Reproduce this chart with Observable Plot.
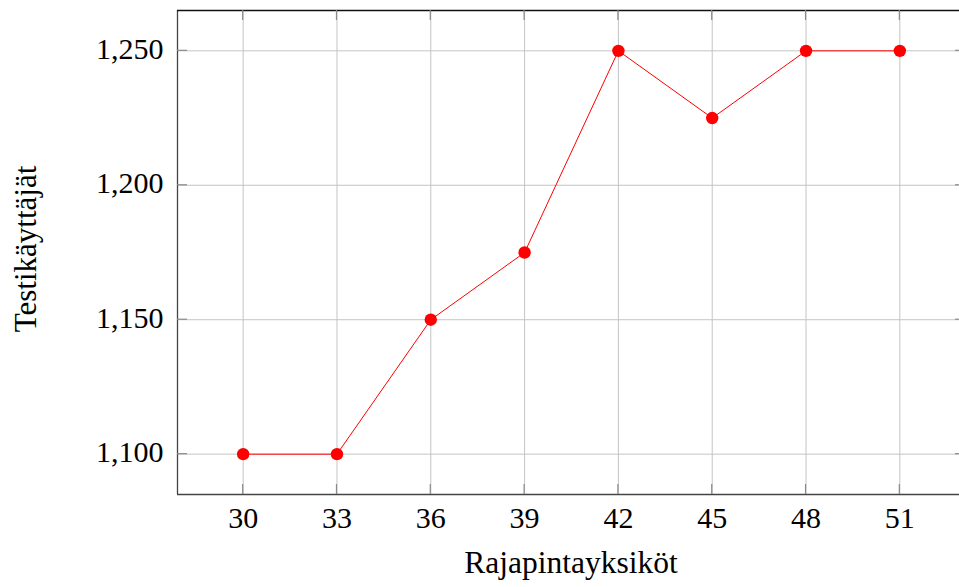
<!DOCTYPE html>
<html>
<head>
<meta charset="utf-8">
<script src="https://cdn.jsdelivr.net/npm/d3@7"></script>
<script src="https://cdn.jsdelivr.net/npm/@observablehq/plot@0.6"></script>
<style>
  html, body { margin: 0; padding: 0; background: #fff; overflow: hidden; }
  svg { display: block; }
</style>
</head>
<body>
<div id="chart"></div>
<script>
const units = [30, 33, 36, 39, 42, 45, 48, 51];
const users = [1100, 1100, 1150, 1175, 1250, 1225, 1250, 1250];
const xTicks = [30, 33, 36, 39, 42, 45, 48, 51];
const yTicks = [1100, 1150, 1200, 1250];
const xLabel = "Rajapintayksiköt";
const yLabel = "Testikäyttäjät";

const data = units.map((u, i) => ({x: u, y: users[i]}));
const xDomain = [27.9, 53.1];
const yDomain = [1085, 1265];
const font = "'Liberation Serif', 'DejaVu Serif', serif";

const chart = Plot.plot({
  width: 959,
  height: 587,
  marginLeft: 177,
  marginRight: -6,
  marginTop: 10,
  marginBottom: 93,
  style: {fontFamily: font, fontSize: "30px", color: "#000", background: "#fff", overflow: "hidden"},
  x: {domain: xDomain, ticks: xTicks},
  y: {domain: yDomain, ticks: yTicks},
  marks: [
    Plot.gridX(xTicks, {stroke: "#c4c4c4", strokeOpacity: 1}),
    Plot.gridY(yTicks, {stroke: "#c4c4c4", strokeOpacity: 1}),
    Plot.axisX(xTicks, {tickSize: 0, tickPadding: 12, label: null, fontSize: 30}),
    Plot.axisY(yTicks, {tickSize: 0, tickPadding: 14, label: null, tickFormat: d3.format(","), fontSize: 30, dy: -1.5}),
    Plot.ruleX([xDomain[0]], {stroke: "#444", strokeWidth: 1.3}),
    Plot.ruleY([yDomain[0]], {stroke: "#444", strokeWidth: 1.3}),
    Plot.ruleY([yDomain[1]], {stroke: "#111", strokeWidth: 1.3}),
    Plot.line(data, {x: "x", y: "y", stroke: "#ff0000", strokeWidth: 1}),
    Plot.dot(data, {x: "x", y: "y", fill: "#ff0000", r: 6.2})
  ]
});

// inward tick marks (pgfplots style) using the plot's own scales
const sx = chart.scale("x"), sy = chart.scale("y");
const svg = d3.select(chart);
const L = 10;
const x0 = sx.apply(xDomain[0]), x1 = sx.apply(xDomain[1]);
const y0 = sy.apply(yDomain[0]), y1 = sy.apply(yDomain[1]);
const g = svg.append("g").attr("stroke", "#8a8a8a").attr("stroke-width", 1.2);
xTicks.forEach(t => {
  const px = sx.apply(t);
  g.append("line").attr("x1", px).attr("x2", px).attr("y1", y0).attr("y2", y0 - L);
  g.append("line").attr("x1", px).attr("x2", px).attr("y1", y1).attr("y2", y1 + L);
});
yTicks.forEach(t => {
  const py = sy.apply(t);
  g.append("line").attr("x1", x0).attr("x2", x0 + L).attr("y1", py).attr("y2", py);
  g.append("line").attr("x1", x1).attr("x2", x1 - L).attr("y1", py).attr("y2", py);
});

// axis titles
svg.append("text")
  .attr("x", 571)
  .attr("y", 573)
  .attr("text-anchor", "middle")
  .attr("font-family", font)
  .attr("font-size", 31.5)
  .attr("fill", "#000")
  .text(xLabel);
svg.append("text")
  .attr("transform", `translate(36, 249) rotate(-90)`)
  .attr("text-anchor", "middle")
  .attr("font-family", font)
  .attr("font-size", 31)
  .attr("fill", "#000")
  .text(yLabel);

document.getElementById("chart").appendChild(chart);
</script>
</body>
</html>
